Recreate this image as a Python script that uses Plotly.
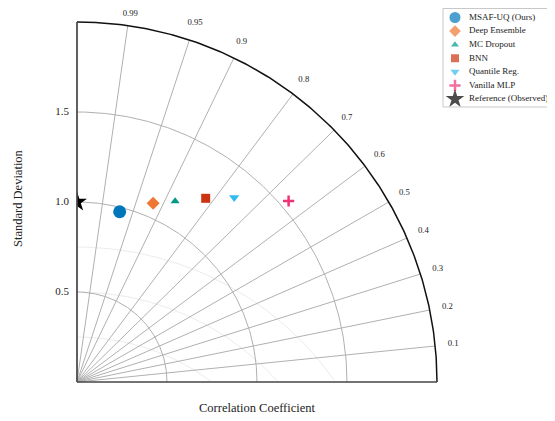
import numpy as np
import plotly.graph_objects as go

# ---------------- data ----------------
models = ["MSAF-UQ (Ours)", "Deep Ensemble", "MC Dropout", "BNN", "Quantile Reg.", "Vanilla MLP"]
corr_vals = [0.970, 0.920, 0.879, 0.819, 0.761, 0.650]
std_vals = [0.975, 1.079, 1.143, 1.246, 1.346, 1.547]
ref_name = "Reference (Observed)"
ref_std = 1.0

corr_ticks = [0.1, 0.2, 0.3, 0.4, 0.5, 0.6, 0.7, 0.8, 0.9, 0.95, 0.99]
corr_tick_labels = ["0.1", "0.2", "0.3", "0.4", "0.5", "0.6", "0.7", "0.8", "0.9", "0.95", "0.99"]
std_ticks = [0.5, 1.0, 1.5]
std_tick_labels = ["0.5", "1.0", "1.5"]
rms_levels = [1.25, 1.5, 1.75]
std_max = 2.0

# ---------------- styles ----------------
colors = ["#0077BB", "#EE7733", "#009988", "#CC3311", "#33BBEE", "#EE3377"]
symbols = ["circle", "diamond", "triangle-up", "square", "triangle-down", "cross-thin"]
sizes = [13, 10, 8, 9, 9, 8]
leg_sizes = [11, 9, 7, 8, 8, 8]
FONT = "Liberation Serif, Times New Roman, serif"
GRID = "#b0b0b0"
TXT = "#222222"

# page body has an 8px margin: lay out in a 547x413 figure, coordinates given in window pixels
OFF = 8
WIN_W, WIN_H = 555, 421
W, H = WIN_W - OFF, WIN_H - OFF
ORIG_X, ORIG_Y, PPU = 77, 382, 180.0   # origin (window px) and pixels per unit


def px_x(p):
    return (p - OFF) / W


def px_y(p):
    return (WIN_H - p) / H


fig = go.Figure()

# ---- main (clipped) axes: grid, markers ----
fx, fy = [], []
for R in rms_levels:
    t = np.linspace(0, np.pi / 2, 200)
    xs = R * np.cos(t)
    ys = R * np.sin(t) - 1.0
    m = ys >= 0
    fx += list(xs[m]) + [None]
    fy += list(ys[m]) + [None]
fig.add_trace(go.Scatter(x=fx, y=fy, mode="lines", line=dict(color="#ececec", width=1),
                         hoverinfo="skip", showlegend=False))

gx, gy = [], []
for c in corr_ticks:
    s = np.sqrt(1 - c ** 2)
    gx += [0, std_max * s, None]
    gy += [0, std_max * c, None]
th = np.linspace(0, np.pi / 2, 240)
for r in std_ticks:
    gx += list(r * np.cos(th)) + [None]
    gy += list(r * np.sin(th)) + [None]
fig.add_trace(go.Scatter(x=gx, y=gy, mode="lines", line=dict(color=GRID, width=1),
                         hoverinfo="skip", showlegend=False))

fig.add_trace(go.Scatter(x=list(std_max * np.cos(th)), y=list(std_max * np.sin(th)), mode="lines",
                         line=dict(color="#111111", width=1.5), hoverinfo="skip", showlegend=False))

for name, c, s, col, sym, sz in zip(models, corr_vals, std_vals, colors, symbols, sizes):
    marker = dict(color=col, symbol=sym, size=sz)
    if sym == "cross-thin":
        marker["line"] = dict(color=col, width=2.5)
    fig.add_trace(go.Scatter(x=[s * np.sqrt(1 - c ** 2)], y=[s * c], mode="markers",
                             marker=marker, name=name, showlegend=False, cliponaxis=False))

# reference star (clipped at the vertical axis, as in the original)
fig.add_trace(go.Scatter(x=[0.0], y=[ref_std], mode="markers", name=ref_name,
                         marker=dict(color="black", symbol="star", size=15),
                         showlegend=False, cliponaxis=True))

# ---- legend axes (x2, y2) ----
leg_names = models + [ref_name]
leg_cols = colors + ["black"]
leg_syms = symbols + ["star"]
leg_sz = leg_sizes + [14]
idx = list(range(len(leg_names)))
fig.add_trace(go.Scatter(
    x=[12] * len(idx), y=idx, mode="markers", xaxis="x2", yaxis="y2",
    marker=dict(color=leg_cols, symbol=leg_syms, size=leg_sz,
                line=dict(color=leg_cols, width=[0, 0, 0, 0, 0, 2.5, 0])),
    hoverinfo="skip", showlegend=False, cliponaxis=False))
fig.add_trace(go.Scatter(
    x=[26] * len(idx), y=idx, mode="text", xaxis="x2", yaxis="y2",
    text=leg_names, textposition="middle right",
    textfont=dict(family=FONT, size=9.0, color=TXT),
    hoverinfo="skip", showlegend=False, cliponaxis=False))

# ---- full-figure overlay axes (x3, y3): axis spines and labels ----
fig.add_trace(go.Scatter(x=[0, 0, None, 0, std_max], y=[std_max, 0, None, 0, 0], mode="lines",
                         xaxis="x3", yaxis="y3",
                         line=dict(color="#444444", width=1.7), hoverinfo="skip", showlegend=False))

lab_r = 2.1
y3_top = (ORIG_Y - OFF) / PPU
fig.add_trace(go.Scatter(
    x=[lab_r * np.sqrt(1 - c ** 2) for c in corr_ticks],
    y=[min(lab_r * c, y3_top - 0.03) for c in corr_ticks],
    mode="text", text=corr_tick_labels, textposition="middle center", xaxis="x3", yaxis="y3",
    textfont=dict(family=FONT, size=8.7, color=TXT),
    cliponaxis=False, hoverinfo="skip", showlegend=False))

fig.add_trace(go.Scatter(
    x=[-0.045] * len(std_ticks), y=std_ticks, mode="text", text=std_tick_labels,
    textposition="middle left", xaxis="x3", yaxis="y3",
    textfont=dict(family=FONT, size=11, color=TXT),
    cliponaxis=False, hoverinfo="skip", showlegend=False))

leg_top, leg_bot, leg_left = 8.5, 107, 443
fig.add_shape(type="rect", xref="paper", yref="paper",
              x0=px_x(leg_left), x1=1.02, y0=px_y(leg_bot), y1=px_y(leg_top),
              line=dict(color="#c8c8c8", width=1), fillcolor="rgba(0,0,0,0)")

annotations = [
    dict(text="Standard Deviation", x=px_x(18), y=px_y(198), xref="paper", yref="paper",
         showarrow=False, textangle=-90, font=dict(family=FONT, size=12.5, color=TXT),
         xanchor="center", yanchor="middle"),
    dict(text="Correlation Coefficient", x=px_x(257), y=px_y(408), xref="paper", yref="paper",
         showarrow=False, font=dict(family=FONT, size=12.5, color=TXT),
         xanchor="center", yanchor="middle"),
]

hidden = dict(showgrid=False, zeroline=False, showline=False, showticklabels=False, ticks="")
fig.update_layout(
    width=W, height=H,
    margin=dict(l=0, r=0, t=0, b=0, autoexpand=False),
    paper_bgcolor="white", plot_bgcolor="rgba(0,0,0,0)",
    showlegend=False,
    font=dict(family=FONT, color=TXT),
    xaxis=dict(domain=[px_x(ORIG_X), px_x(446)], range=[0, (446 - ORIG_X) / PPU], **hidden),
    yaxis=dict(domain=[px_y(391), px_y(13)], range=[(ORIG_Y - 391) / PPU, (ORIG_Y - 13) / PPU], **hidden),
    xaxis2=dict(domain=[px_x(leg_left), 1.0], range=[0, 112], anchor="y2", visible=False),
    yaxis2=dict(domain=[px_y(leg_bot), px_y(leg_top)],
                range=[6 + 8 / 13.6, -9 / 13.6], anchor="x2", visible=False),
    xaxis3=dict(domain=[0, 1], range=[(OFF - ORIG_X) / PPU, (WIN_W - ORIG_X) / PPU],
                anchor="y3", visible=False),
    yaxis3=dict(domain=[0, 1], range=[(ORIG_Y - WIN_H) / PPU, y3_top],
                anchor="x3", visible=False),
    annotations=annotations,
)

fig.write_html("out.html")
